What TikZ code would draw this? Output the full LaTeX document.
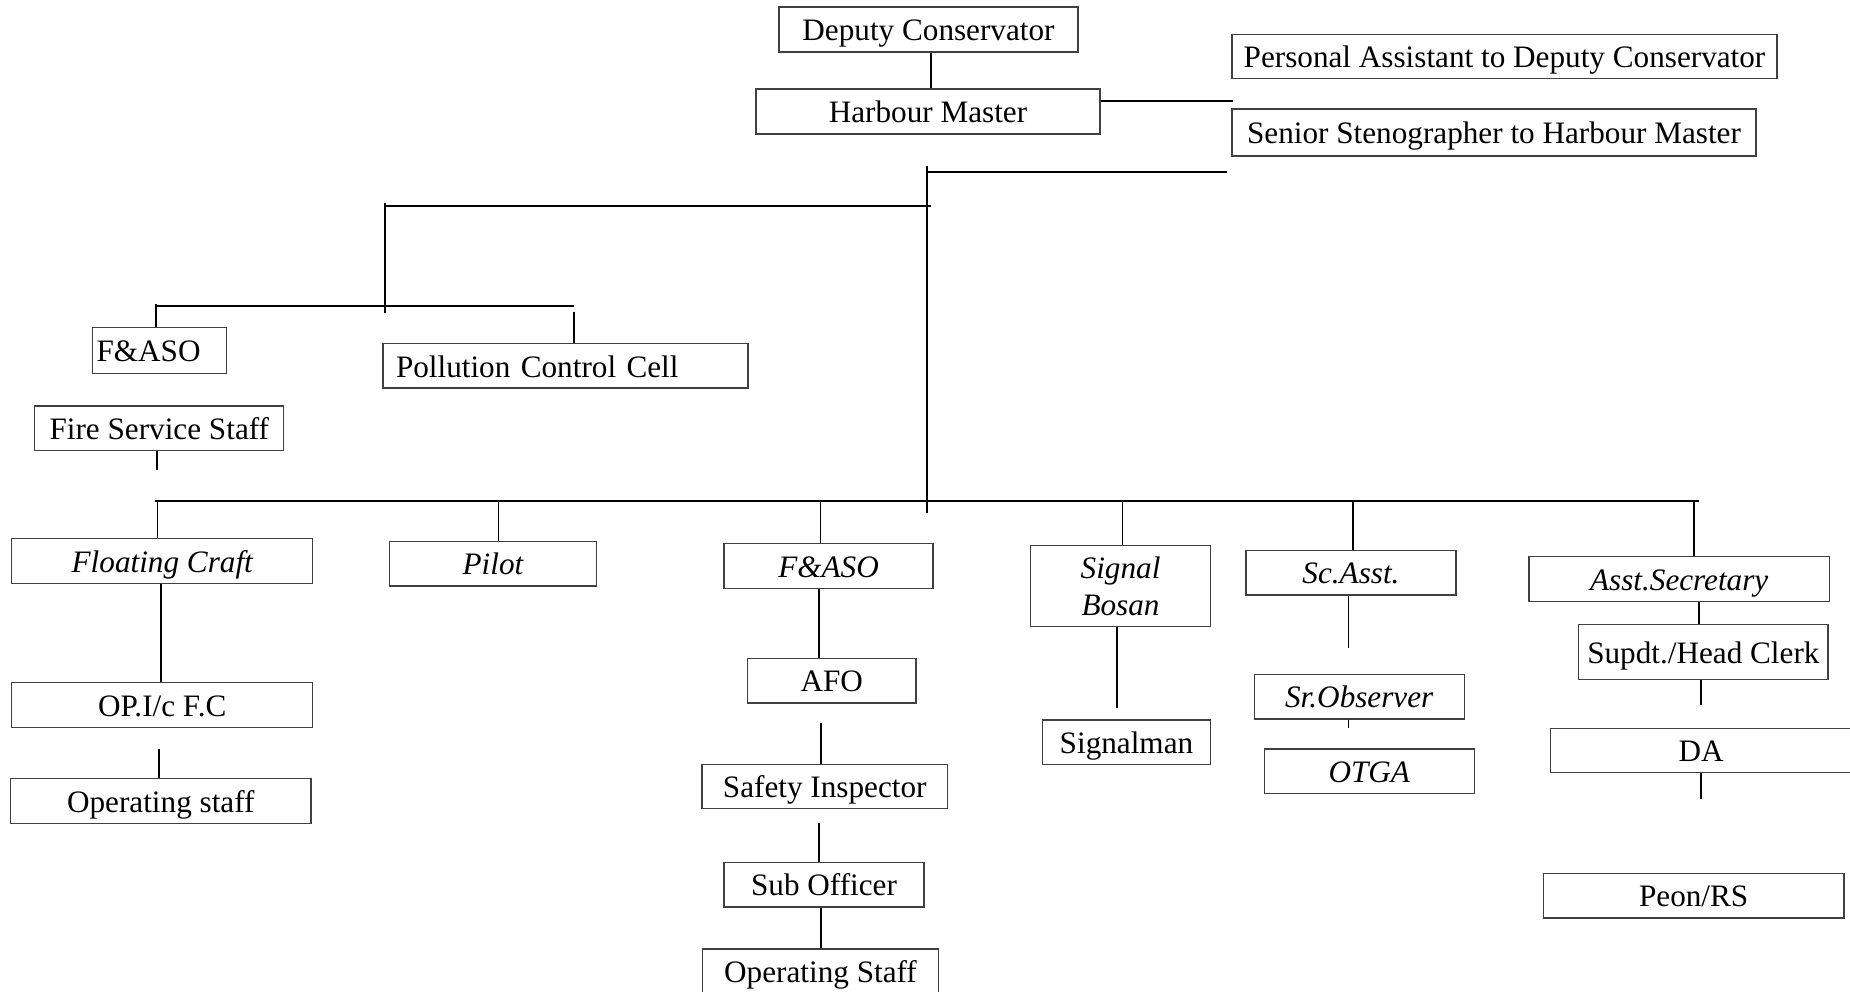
\documentclass[tikz,border=0pt]{standalone}
\usepackage{fontspec}
\setmainfont{Liberation Serif}
\tikzset{
  box/.style={draw=black!75, line width=1.3pt, inner sep=0pt,
    font=\fontsize{31.2}{37.7}\selectfont, text height=26.8pt, text depth=4.4pt, align=center},
  itbox/.style={box, font=\fontsize{31.2}{37.7}\selectfont\itshape},
  ln/.style={line width=1.7pt},
  bus/.style={line width=2pt},
}
\newcommand{\bx}[7][]{\node[box,#1,minimum width={(#5)-(#3)},minimum height={(#6)-(#4)}] (#2) at ({((#3)+(#5))/2},{((#4)+(#6))/2}) {#7};}
\begin{document}
\begin{tikzpicture}[x=1pt,y=-1pt]
\useasboundingbox (0,0) rectangle (1850,992);
% boxes
\bx{dc}{779}{7}{1078}{52}{Deputy Conservator}
\bx{hm}{756}{89}{1100}{134}{Harbour Master}
\bx{pa}{1232}{34.3}{1777}{78.7}{Personal Assistant to Deputy Conservator}
\bx{steno}{1232}{109}{1756}{156}{Senior Stenographer to Harbour Master}
\bx[align=left,text width=126pt,inner xsep=4pt]{fa1}{92.6}{327.7}{226.6}{373.5}{F\&ASO}
\bx[align=left,text width=339pt,inner xsep=13pt]{pcc}{383}{343.7}{748}{388}{Pollution Control Cell}
\bx{fss}{34.8}{406}{283.8}{450.7}{Fire Service Staff}
\bx[itbox]{fc}{11.8}{538.7}{312.7}{583.3}{Floating Craft}
\bx{opic}{11.8}{682.3}{312.7}{727.3}{OP.I/c F.C}
\bx{ops1}{10.6}{778.7}{311}{823.3}{Operating staff}
\bx[itbox]{pilot}{389.4}{541.3}{596.5}{586}{Pilot}
\bx[itbox]{fa2}{724}{543.7}{933}{588.3}{F\&ASO}
\bx{afo}{747.5}{658.3}{916}{703}{AFO}
\bx{si}{702}{764.3}{947.5}{808.3}{Safety Inspector}
\bx{so}{724}{862.3}{924}{907}{Sub Officer}
\bx{ops2}{702.3}{949}{938.7}{994}{Operating Staff}
\bx[itbox,text height=64.5pt,text depth=4.4pt]{sb}{1030.6}{545.3}{1210.5}{626.3}{Signal\\Bosan}
\bx{sig}{1042.4}{720}{1210.5}{764.7}{Signalman}
\bx[itbox]{sc}{1246}{550.3}{1456}{595}{Sc.Asst.}
\bx[itbox]{sro}{1254.2}{674.3}{1464.2}{719}{Sr.Observer}
\bx[itbox]{otga}{1264.2}{749}{1474.3}{793.7}{OTGA}
\bx[itbox]{as}{1529}{556.7}{1829.4}{601.3}{Asst.Secretary}
\bx{sup}{1578.7}{624.3}{1828}{679.3}{Supdt./Head Clerk}
\bx{da}{1550.3}{728.3}{1852}{772.7}{DA}
\bx{peon}{1543.3}{873.3}{1844}{918}{Peon/RS}
% coordinates
\coordinate (hmR) at (1233,100.7);
\coordinate (trTop) at (927,165.7);
\coordinate (trBot) at (927,513.3);
\coordinate (upR) at (1227,172.3);
\coordinate (lbL) at (385,205.7);
\coordinate (lbR) at (930.7,205.7);
\coordinate (lvTop) at (385,203);
\coordinate (lvBot) at (385,313);
\coordinate (l2L) at (156,305.7);
\coordinate (l2R) at (574,305.7);
\coordinate (faT) at (156,304);
\coordinate (pcT) at (574,311.7);
\coordinate (fsB) at (157,470);
\coordinate (busL) at (155,500.5);
\coordinate (busR) at (1699,500.5);
\coordinate (dFC) at (157.5,500.5);
\coordinate (dPi) at (498.5,500.5);
\coordinate (dFA) at (820.6,500.5);
\coordinate (dSB) at (1122.6,500.5);
\coordinate (dSC) at (1352.7,500.5);
\coordinate (dAS) at (1693.7,500.5);
\coordinate (cFC) at (161,0);
\coordinate (sOP) at (159.3,748.7);
\coordinate (cFA) at (819,0);
\coordinate (sSI) at (821,723.3);
\coordinate (sSO) at (819,822.7);
\coordinate (cSO) at (821,0);
\coordinate (sSB) at (1116.7,707.7);
\coordinate (sSC) at (1348.6,648.3);
\coordinate (sRO) at (1348.6,728.3);
\coordinate (cAS) at (1699,0);
\coordinate (sSU) at (1700.8,705.3);
\coordinate (sDA) at (1700.8,798.7);
% connectors
\draw[ln] ([xshift=2.5pt]dc.south) -- ([xshift=3pt]hm.north);
\draw[bus] (hm.east |- hmR) -- (hmR);
\draw[ln] (trTop) -- (trBot);
\draw[bus] (trTop |- upR) -- (upR);
\draw[bus] (lbL) -- (lbR);
\draw[ln] (lvTop) -- (lvBot);
\draw[bus] (l2L) -- (l2R);
\draw[ln] (faT) -- (fa1.north -| faT);
\draw[ln] (pcT) -- (pcc.north -| pcT);
\draw[ln] (fss.south -| fsB) -- (fsB);
\draw[bus] (busL) -- (busR);
\draw[ln] (dFC) -- (fc.north -| dFC);
\draw[ln] (dPi) -- (pilot.north -| dPi);
\draw[ln] (dFA) -- (fa2.north -| dFA);
\draw[ln] (dSB) -- (sb.north -| dSB);
\draw[ln] (dSC) -- (sc.north -| dSC);
\draw[ln] (dAS) -- (as.north -| dAS);
\draw[ln] (fc.south -| cFC) -- (opic.north -| cFC);
\draw[ln] (sOP) -- (ops1.north -| sOP);
\draw[ln] (fa2.south -| cFA) -- (afo.north -| cFA);
\draw[ln] (sSI) -- (si.north -| sSI);
\draw[ln] (sSO) -- (so.north -| sSO);
\draw[ln] (so.south -| cSO) -- (ops2.north -| cSO);
\draw[ln] (sb.south -| sSB) -- (sSB);
\draw[ln] (sc.south -| sSC) -- (sSC);
\draw[ln] (sro.south -| sRO) -- (sRO);
\draw[ln] (as.south -| cAS) -- (sup.north -| cAS);
\draw[ln] (sup.south -| sSU) -- (sSU);
\draw[ln] (da.south -| sDA) -- (sDA);
\end{tikzpicture}
\end{document}
